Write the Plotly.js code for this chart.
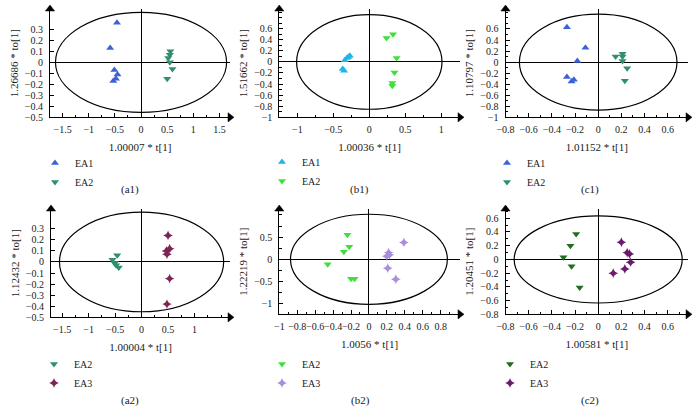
<!DOCTYPE html>
<html>
<head>
<meta charset="utf-8">
<script src="https://cdn.plot.ly/plotly-3.0.1.min.js"></script>
<style>html,body{margin:0;padding:0;background:#fff;}#chart{width:695px;height:411px;}</style>
</head>
<body>
<div id="chart"></div>
<script>
// ---------- data ----------
const a1_EA1_x = [-0.46, -0.59, -0.51, -0.45, -0.48, -0.53];
const a1_EA1_y = [0.36, 0.13, -0.07, -0.11, -0.15, -0.17];
const a1_EA2_x = [0.56, 0.55, 0.52, 0.55, 0.60, 0.50];
const a1_EA2_y = [0.10, 0.07, 0.04, 0.00, -0.06, -0.15];

const b1_EA1_x = [-0.27, -0.29, -0.31, -0.34, -0.37, -0.35];
const b1_EA1_y = [0.11, 0.09, 0.07, 0.03, -0.13, -0.16];
const b1_EA2_x = [0.24, 0.33, 0.38, 0.35, 0.32, 0.32];
const b1_EA2_y = [0.43, 0.50, 0.07, -0.19, -0.38, -0.43];

const c1_EA1_x = [-0.27, -0.11, -0.18, -0.27, -0.21, -0.23];
const c1_EA1_y = [0.63, 0.26, 0.02, -0.27, -0.32, -0.35];
const c1_EA2_x = [0.15, 0.21, 0.21, 0.21, 0.25, 0.23];
const c1_EA2_y = [0.10, 0.15, 0.10, 0.02, -0.11, -0.34];

const a2_EA2_x = [-0.46, -0.55, -0.51, -0.48, -0.43, -0.50];
const a2_EA2_y = [0.06, 0.02, -0.01, -0.03, -0.05, -0.01];
const a2_EA3_x = [0.50, 0.47, 0.53, 0.48, 0.53, 0.48];
const a2_EA3_y = [0.24, 0.10, 0.12, 0.07, -0.15, -0.38];

const b2_EA2_x = [-0.24, -0.22, -0.28, -0.46, -0.20, -0.16];
const b2_EA2_y = [0.55, 0.28, 0.17, -0.11, -0.44, -0.44];
const b2_EA3_x = [0.39, 0.22, 0.23, 0.20, 0.21, 0.30];
const b2_EA3_y = [0.38, 0.15, 0.10, 0.07, -0.20, -0.45];

const c2_EA2_x = [-0.19, -0.24, -0.30, -0.23, -0.16];
const c2_EA2_y = [0.37, 0.20, 0.03, -0.10, -0.41];
const c2_EA3_x = [0.20, 0.25, 0.27, 0.28, 0.23, 0.13];
const c2_EA3_y = [0.25, 0.10, 0.08, -0.04, -0.14, -0.20];

// confidence ellipse semi-axes (t[1], to[1]) per panel
const ellipseA = [1.635, 1.01, 0.68, 1.55, 0.875, 0.725];
const ellipseB = [0.455, 0.855, 0.87, 0.45, 1.015, 0.635];

// axis titles and panel labels
const xTitles = ["1.00007 * t[1]", "1.00036 * t[1]", "1.01152 * t[1]", "1.00004 * t[1]", "1.0056 * t[1]", "1.00581 * t[1]"];
const yTitles = ["1.26686 * to[1]", "1.51662 * to[1]", "1.10797 * to[1]", "1.12432 * to[1]", "1.22219 * to[1]", "1.20451 * to[1]"];
const panelLabels = ["(a1)", "(b1)", "(c1)", "(a2)", "(b2)", "(c2)"];

// tick values / labels
const xTickVals = [
  [-1.5, -1, -0.5, 0, 0.5, 1, 1.5],
  [-1, -0.5, 0, 0.5, 1],
  [-0.8, -0.6, -0.4, -0.2, 0, 0.2, 0.4, 0.6],
  [-1.5, -1, -0.5, 0, 0.5, 1],
  [-1, -0.8, -0.6, -0.4, -0.2, 0, 0.2, 0.4, 0.6, 0.8],
  [-0.8, -0.6, -0.4, -0.2, 0, 0.2, 0.4, 0.6]
];
const xTickText = [
  ["\u22121.5", "\u22121", "\u22120.5", "0", "0.5", "1", "1.5"],
  ["\u22121", "\u22120.5", "0", "0.5", "1"],
  ["\u22120.8", "\u22120.6", "\u22120.4", "\u22120.2", "0", "0.2", "0.4", "0.6"],
  ["\u22121.5", "\u22121", "\u22120.5", "0", "0.5", "1"],
  ["\u22121", "\u22120.8", "\u22120.6", "\u22120.4", "\u22120.2", "0", "0.2", "0.4", "0.6", "0.8"],
  ["\u22120.8", "\u22120.6", "\u22120.4", "\u22120.2", "0", "0.2", "0.4", "0.6"]
];
const yTickVals = [
  [-0.5, -0.4, -0.3, -0.2, -0.1, 0, 0.1, 0.2, 0.3],
  [-1, -0.8, -0.6, -0.4, -0.2, 0, 0.2, 0.4, 0.6],
  [-1, -0.8, -0.6, -0.4, -0.2, 0, 0.2, 0.4, 0.6],
  [-0.5, -0.4, -0.3, -0.2, -0.1, 0, 0.1, 0.2, 0.3],
  [-1, -0.5, 0, 0.5],
  [-0.8, -0.6, -0.4, -0.2, 0, 0.2, 0.4, 0.6]
];
const yTickText = [
  ["\u22120.5", "\u22120.4", "\u22120.3", "\u22120.2", "\u22120.1", "0", "0.1", "0.2", "0.3"],
  ["\u22121", "\u22120.8", "\u22120.6", "\u22120.4", "\u22120.2", "0", "0.2", "0.4", "0.6"],
  ["\u22121", "\u22120.8", "\u22120.6", "\u22120.4", "\u22120.2", "0", "0.2", "0.4", "0.6"],
  ["\u22120.5", "\u22120.4", "\u22120.3", "\u22120.2", "\u22120.1", "0", "0.1", "0.2", "0.3"],
  ["\u22121", "\u22120.5", "0", "0.5"],
  ["\u22120.8", "\u22120.6", "\u22120.4", "\u22120.2", "0", "0.2", "0.4", "0.6"]
];

// ---------- layout geometry (pixels) ----------
const W = 695, H = 411;
const FONT = "Liberation Serif";
const panels = [
  {L: 50,    R: 230, T: 9,   B: 117.3, xr: [-1.74, 1.70],   yr: [-0.5, 0.485], xminor: 0.25, yminor: null},
  {L: 279.3, R: 460, T: 9,   B: 117.3, xr: [-1.25, 1.26],   yr: [-1.0, 0.955], xminor: 0.25, yminor: 0.1},
  {L: 505.5, R: 688, T: 9,   B: 117.3, xr: [-0.8, 0.775],   yr: [-1.0, 0.962], xminor: 0.1,  yminor: 0.1},
  {L: 51,    R: 230, T: 209, B: 317.3, xr: [-1.71, 1.67],   yr: [-0.5, 0.479], xminor: 0.25, yminor: null},
  {L: 279.3, R: 460, T: 209, B: 314.3, xr: [-1.0, 1.016],   yr: [-1.24, 1.133], xminor: 0.1, yminor: 0.25},
  {L: 505.5, R: 688, T: 209, B: 314.3, xr: [-0.8, 0.775],   yr: [-0.8, 0.735], xminor: 0.1,  yminor: 0.1}
];
const legendPos = [[55, 158], [282, 157], [507, 158], [54, 359], [282, 359], [510, 359]];
const labelPos = [[130, 189], [359, 189], [590, 189], [130, 400], [360, 400], [590, 400]];

const px = v => v / W;
const py = v => 1 - v / H;

// ---------- traces ----------
const BLUE = "#3c62d6", SEA = "#2f8f6e", CYAN = "#22b4e6", LIME = "#3ee03a",
      MAROON = "#7c2453", LAV = "#a88fda", DKGREEN = "#1f6f1f", PURPLE = "#6c1a6c";

const sfx = idx => (idx === 0 ? "" : String(idx + 1));

function tr(x, y, name, color, symbol, idx) {
  const s = sfx(idx);
  return {
    type: "scatter", mode: "markers", x: x, y: y, name: name,
    xaxis: "x" + s, yaxis: "y" + s, legend: "legend" + s,
    marker: {color: color, symbol: symbol, size: 7, line: {width: 0}},
    cliponaxis: false
  };
}

const data = [
  tr(a1_EA1_x, a1_EA1_y, "EA1", BLUE, "triangle-up", 0),
  tr(a1_EA2_x, a1_EA2_y, "EA2", SEA, "triangle-down", 0),
  tr(b1_EA1_x, b1_EA1_y, "EA1", CYAN, "triangle-up", 1),
  tr(b1_EA2_x, b1_EA2_y, "EA2", LIME, "triangle-down", 1),
  tr(c1_EA1_x, c1_EA1_y, "EA1", BLUE, "triangle-up", 2),
  tr(c1_EA2_x, c1_EA2_y, "EA2", SEA, "triangle-down", 2),
  tr(a2_EA2_x, a2_EA2_y, "EA2", SEA, "triangle-down", 3),
  tr(a2_EA3_x, a2_EA3_y, "EA3", MAROON, "star-diamond", 3),
  tr(b2_EA2_x, b2_EA2_y, "EA2", LIME, "triangle-down", 4),
  tr(b2_EA3_x, b2_EA3_y, "EA3", LAV, "star-diamond", 4),
  tr(c2_EA2_x, c2_EA2_y, "EA2", DKGREEN, "triangle-down", 5),
  tr(c2_EA3_x, c2_EA3_y, "EA3", PURPLE, "star-diamond", 5)
];

// arrow heads at the far ends of each pair of axes (placed at the axis range ends)
panels.forEach((p, i) => {
  const s = sfx(i);
  data.push({
    type: "scatter", mode: "markers", showlegend: false, hoverinfo: "skip",
    x: [p.xr[0], p.xr[1]], y: [p.yr[1], p.yr[0]],
    xaxis: "x" + s, yaxis: "y" + s, legend: "legend" + s,
    marker: {symbol: ["triangle-up", "triangle-right"], size: 8, color: "#000000", opacity: 1,
             line: {width: 0.5, color: "#000000"}},
    cliponaxis: false
  });
});

// ---------- layout ----------
const layout = {
  width: W, height: H,
  margin: {l: 0, r: 0, t: 0, b: 0},
  paper_bgcolor: "#ffffff", plot_bgcolor: "#ffffff",
  font: {family: FONT, size: 10, color: "#1a1a1a"},
  showlegend: true,
  shapes: [], annotations: []
};

panels.forEach((p, i) => {
  const s = sfx(i);
  const common = {
    showline: true, linecolor: "#000", linewidth: 1,
    zeroline: true, zerolinecolor: "#000", zerolinewidth: 1,
    showgrid: false, ticks: "inside", ticklen: 4, tickwidth: 1, tickcolor: "#000",
    tickfont: {family: FONT, size: 10, color: "#1a1a1a"},
    tickmode: "array", tickangle: 0, fixedrange: true
  };
  layout["xaxis" + s] = Object.assign({}, common, {
    domain: [px(p.L), px(p.R)], range: p.xr, anchor: "y" + s,
    tickvals: xTickVals[i], ticktext: xTickText[i],
    ticklabelstandoff: 3,
    minor: {dtick: p.xminor, tick0: 0, ticks: "inside", ticklen: 2.5, tickcolor: "#000", showgrid: false},
    title: {text: xTitles[i], font: {family: FONT, size: 11, color: "#1a1a1a"}, standoff: 9}
  });
  const yax = Object.assign({}, common, {
    domain: [py(p.B), py(p.T)], range: p.yr, anchor: "x" + s,
    tickvals: yTickVals[i], ticktext: yTickText[i],
    ticklabelstandoff: 4,
    title: {text: yTitles[i], font: {family: FONT, size: 11, color: "#1a1a1a"}, standoff: 4}
  });
  if (p.yminor) yax.minor = {dtick: p.yminor, tick0: 0, ticks: "inside", ticklen: 2.5, tickcolor: "#000", showgrid: false};
  layout["yaxis" + s] = yax;

  // confidence ellipse, drawn in data coordinates
  layout.shapes.push({
    type: "circle", xref: "x" + s, yref: "y" + s, layer: "below",
    x0: -ellipseA[i], x1: ellipseA[i], y0: -ellipseB[i], y1: ellipseB[i],
    line: {color: "#000", width: 1.2}
  });

  // legend for this panel
  layout["legend" + s] = {
    x: px(legendPos[i][0] - 20), y: py(legendPos[i][1] - 9.5),
    xanchor: "left", yanchor: "top", orientation: "v",
    bgcolor: "rgba(0,0,0,0)", borderwidth: 0,
    font: {family: FONT, size: 10, color: "#1a1a1a"},
    tracegroupgap: 0
  };

  // panel label
  layout.annotations.push({
    xref: "paper", yref: "paper", x: px(labelPos[i][0]), y: py(labelPos[i][1]),
    xanchor: "center", yanchor: "middle", showarrow: false,
    text: panelLabels[i], font: {family: FONT, size: 11, color: "#1a1a1a"}
  });
});

Plotly.newPlot("chart", data, layout, {displayModeBar: false, staticPlot: true});
</script>
</body>
</html>
